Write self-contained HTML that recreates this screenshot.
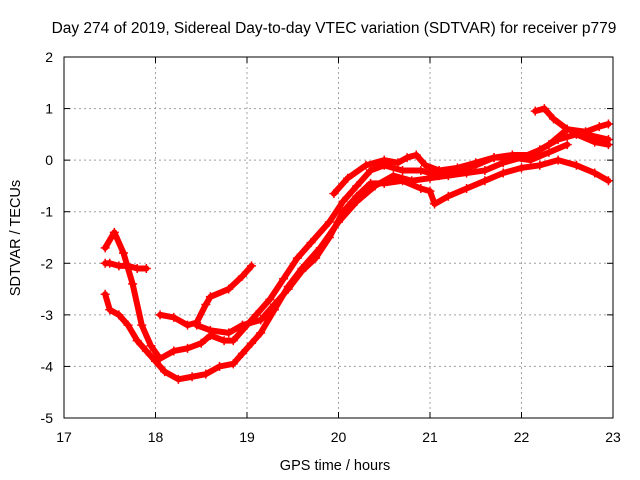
<!DOCTYPE html>
<html><head><meta charset="utf-8"><style>
body{margin:0;background:#fff;}
svg{display:block;font-family:"Liberation Sans",sans-serif;}
</style></head><body>
<svg id="chart" width="640" height="480">
<rect width="640" height="480" fill="#fff"/>
<text x="334" y="33" font-size="15.5" text-anchor="middle">Day 274 of 2019, Sidereal Day-to-day VTEC variation (SDTVAR) for receiver p779</text>
<text x="335" y="470" font-size="14.5" text-anchor="middle">GPS time / hours</text>
<text transform="translate(20,238) rotate(-90)" font-size="14.5" text-anchor="middle">SDTVAR / TECUs</text>
<g id="grid"></g><g id="ticks"></g><g id="marks"></g>
<rect x="64" y="57" width="549" height="361" fill="none" stroke="#000" stroke-width="1"/>
</svg>
<script>
const xTicks=[17,18,19,20,21,22,23];
const yTicks=[2,1,0,-1,-2,-3,-4,-5];
const trackA=[[17.45,-2.6],[17.5,-2.9],[17.6,-3.0],[17.7,-3.2],[17.8,-3.5],[17.9,-3.7],[18.0,-3.9],[18.1,-4.1],[18.25,-4.25],[18.4,-4.2],[18.55,-4.15],[18.7,-4.0],[18.85,-3.95],[18.95,-3.75],[19.05,-3.55],[19.15,-3.35],[19.3,-2.9],[19.45,-2.45],[19.6,-2.1],[19.8,-1.7],[20.0,-1.2],[20.2,-0.8],[20.4,-0.5],[20.6,-0.3],[20.8,-0.4],[21.0,-0.35],[21.2,-0.3],[21.4,-0.25],[21.6,-0.2],[21.8,-0.05],[22.0,0.05],[22.2,0.2],[22.4,0.4],[22.6,0.5],[22.8,0.35],[22.95,0.3]];
const trackB=[[17.45,-1.7],[17.55,-1.4],[17.65,-1.8],[17.75,-2.4],[17.85,-3.2],[17.95,-3.6],[18.05,-3.85],[18.2,-3.7],[18.35,-3.65],[18.5,-3.55],[18.6,-3.4],[18.75,-3.5],[18.85,-3.5],[19.0,-3.2],[19.1,-3.0],[19.25,-2.7],[19.4,-2.3],[19.55,-1.9],[19.7,-1.6],[19.9,-1.2],[20.05,-0.8],[20.2,-0.5],[20.35,-0.2],[20.5,-0.1],[20.7,-0.2],[20.9,-0.2],[21.1,-0.3],[21.3,-0.2],[21.5,-0.1],[21.7,0.05],[21.9,0.1],[22.1,0.1],[22.3,0.3],[22.5,0.6],[22.7,0.5],[22.95,0.4]];
const trackC=[[17.45,-2.0],[17.5,-2.0],[17.6,-2.05],[17.7,-2.05],[17.8,-2.1],[17.9,-2.1]];
const trackD=[[18.05,-3.0],[18.2,-3.05],[18.35,-3.2],[18.45,-3.15],[18.55,-2.8],[18.6,-2.65],[18.8,-2.5],[18.95,-2.25],[19.05,-2.05]];
const trackG=[[18.45,-3.2],[18.6,-3.3],[18.8,-3.35],[18.95,-3.2],[19.15,-3.1],[19.3,-2.8],[19.45,-2.5],[19.6,-2.15],[19.75,-1.9],[19.9,-1.5],[20.05,-1.0],[20.2,-0.7],[20.35,-0.45],[20.5,-0.45],[20.7,-0.4],[20.9,-0.55],[21.0,-0.6],[21.05,-0.85],[21.2,-0.7],[21.4,-0.55],[21.6,-0.4],[21.8,-0.25],[22.0,-0.15],[22.2,-0.1],[22.4,0.0],[22.6,-0.1],[22.8,-0.25],[22.95,-0.4]];
const trackH=[[22.15,0.95],[22.25,1.0],[22.35,0.8],[22.5,0.6],[22.7,0.55],[22.85,0.65],[22.95,0.7]];
const trackI=[[19.95,-0.65],[20.1,-0.35],[20.3,-0.1],[20.5,0.0],[20.65,-0.05],[20.75,0.05],[20.85,0.1],[20.95,-0.1],[21.1,-0.2],[21.3,-0.15],[21.5,-0.05],[21.7,0.05],[21.9,0.05],[22.1,0.0],[22.3,0.15],[22.5,0.3]];
const tracks=[trackA,trackB,trackC,trackD,trackG,trackH,trackI];
const X0=64,X1=613,Y0=418,Y1=57;
const sx=v=>X0+(v-17)/6*(X1-X0);
const sy=v=>Y0-(v+5)/7*(Y0-Y1);
const NS="http://www.w3.org/2000/svg";
const grid=document.getElementById('grid'),ticks=document.getElementById('ticks'),marks=document.getElementById('marks');
function mk(t,a,p){const e=document.createElementNS(NS,t);for(const k in a)e.setAttribute(k,a[k]);p.appendChild(e);return e;}
xTicks.forEach(v=>{const x=sx(v);
 if(v>17&&v<23){const g=mk('line',{x1:x,x2:x,y1:Y1,y2:Y0,stroke:'#a0a0a0','stroke-dasharray':'2,3'},grid);
 
 }
 mk('line',{x1:x,x2:x,y1:Y0,y2:Y0-6,stroke:'#000'},ticks);mk('line',{x1:x,x2:x,y1:Y1,y2:Y1+6,stroke:'#000'},ticks);
 const t=mk('text',{x:x,y:Y0+24,'font-size':14,'text-anchor':'middle'},ticks);t.textContent=v;
 
 });
yTicks.forEach(v=>{const y=sy(v);
 if(v>-5&&v<2){const g=mk('line',{x1:X0,x2:X1,y1:y,y2:y,stroke:'#a0a0a0','stroke-dasharray':'2,3'},grid);
 
 }
 mk('line',{x1:X0,x2:X0+6,y1:y,y2:y,stroke:'#000'},ticks);mk('line',{x1:X1,x2:X1-6,y1:y,y2:y,stroke:'#000'},ticks);
 const t=mk('text',{x:X0-11,y:y+5,'font-size':14,'text-anchor':'end'},ticks);t.textContent=v;
 
 });
tracks.forEach((tr,i)=>{
 const g=mk('g',{},marks);
 
 
 mk('polyline',{points:tr.map(p=>sx(p[0])+','+sy(p[1])).join(' '),fill:'none',stroke:'#ff0000','stroke-width':6,'stroke-linejoin':'round','stroke-linecap':'round'},g);
 tr.forEach(p=>{const x=sx(p[0]),y=sy(p[1]);
  mk('path',{d:`M${x-4.5},${y}H${x+4.5}M${x},${y-4.5}V${y+4.5}`,stroke:'#ff0000','stroke-width':1.5},g);});
});
</script>
</body></html>
